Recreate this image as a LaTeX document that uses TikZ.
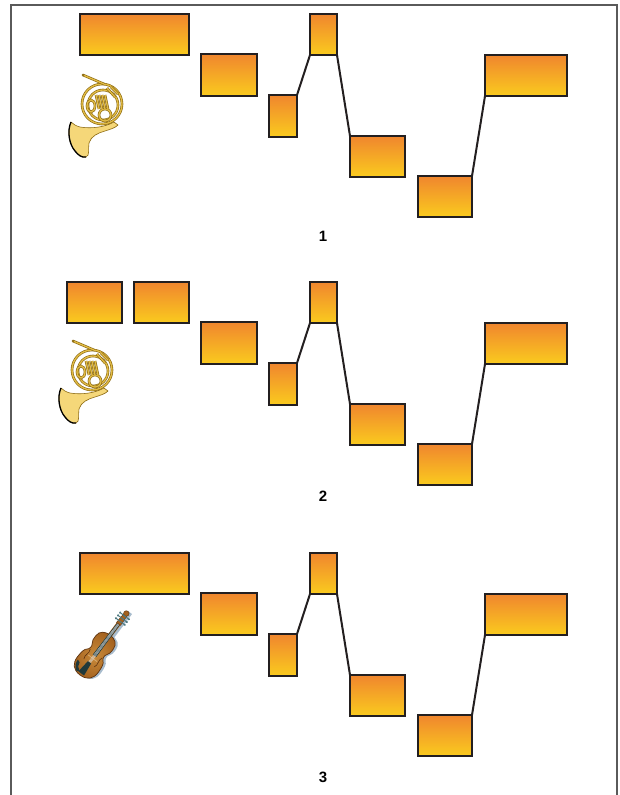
\documentclass[tikz,border=0pt]{standalone}
\usepackage{fontspec}
\setmainfont{Liberation Sans}
\usepackage{xcolor}

\definecolor{barTop}{HTML}{F0862E}
\definecolor{barBot}{HTML}{FACB1E}
\definecolor{barEdge}{HTML}{231F20}
\definecolor{frameGrey}{HTML}{5A5A5A}
\definecolor{brass}{HTML}{E2BC45}
\definecolor{brassDark}{HTML}{8C6A12}
\definecolor{bellFill}{HTML}{F5D779}
\definecolor{woodLight}{HTML}{C98A3A}
\definecolor{woodMid}{HTML}{A4621F}
\definecolor{woodDark}{HTML}{5E3310}
\definecolor{fingerDark}{HTML}{20393B}
\definecolor{pegTeal}{HTML}{4F7A80}
\definecolor{violShade}{HTML}{A8BCCD}

\newcommand\fiddlebody{(0,0) .. controls (0,9) and (5,13) .. (13,13) .. controls (19,13) and (24,12) .. (25,10) .. controls (26,8) and (31,7.5) .. (32,9) .. controls (34,11) and (37,11) .. (41,11) .. controls (47,11) and (50,6) .. (50,0) .. controls (50,-6) and (47,-11) .. (41,-11) .. controls (37,-11) and (34,-11) .. (32,-9) .. controls (31,-7.5) and (26,-8) .. (25,-10) .. controls (24,-12) and (19,-13) .. (13,-13) .. controls (5,-13) and (0,-9) .. (0,0) -- cycle}

\tikzset{
    bar/.style={draw=barEdge,line width=1.7pt,top color=barTop,bottom color=barBot,inner sep=0pt,outer sep=0pt,anchor=north west},
    link/.style={draw=barEdge,line width=2pt},
    frame/.style={draw=frameGrey,line width=1.2pt},
    num/.style={font=\bfseries\fontsize{15}{17}\selectfont,inner sep=0pt},
    tube/.style={draw=brassDark,line width=2.6pt,postaction={draw=brass,line width=1.3pt}},
    horn/.pic={
        \draw[brassDark,line width=0.6pt,fill=bellFill] (-31,18) .. controls (-35,27) and (-33,40) .. (-27,47) .. controls (-24,51) and (-20,54) .. (-16,53) .. controls (-12,52) and (-14,44) .. (-13,39) .. controls (-11,32) and (-4,29) .. (3,27) .. controls (9,25) and (13,24) .. (16,21) -- (12,18) .. controls (3,23) and (-10,25) .. (-22,23) .. controls (-26,22) and (-29,20) .. (-31,18) -- cycle;
        \draw[black,line width=1.3pt] (-31,18) .. controls (-35,27) and (-33,40) .. (-27,47) .. controls (-24,51) and (-20,54) .. (-16,53);
        \draw[tube] (0,0) circle (20);
        \draw[tube] (1,1) circle (15);
        \draw[tube] (3,11) circle (6);
        \draw[tube] (-11,2) ellipse (4 and 6);
        \foreach \k in {0,...,3}
            \draw[tube] ({-6+3*\k},-9) -- ({-3+3*\k},5);
        \draw[tube] (5,-16) -- (13,-7);
        \draw[tube] (9,-17) -- (16,-10);
        \draw[tube] (-19,-29) -- (2,-20);
        \fill[brassDark] (-19,-29) circle (1.4);
    },
    violin/.pic={
        \begin{scope}[x=1pt,y=1pt]
            \begin{scope}[shift={(1,-2.5)}]
                \fill[violShade] \fiddlebody;
                \fill[violShade] (48,-2.4) rectangle (79,2.4);
            \end{scope}
            \fill[woodMid] (48,-2.2) rectangle (66,2.2);
            \shade[inner color=woodLight,outer color=woodMid,draw=woodDark,line width=0.7pt] \fiddlebody;
            \fill[fingerDark] (1,5) .. controls (4,10) and (8,11) .. (11,11) -- (10,8) .. controls (7,8) and (4,6) .. (3,3) -- cycle;
            \fill[fingerDark] (2,-3.5) -- (16,-2) -- (16,2) -- (2,3.5) -- cycle;
            \fill[fingerDark] (24,-2.1) -- (64,-1.6) -- (64,1.6) -- (24,2.1) -- cycle;
            \draw[woodDark,line width=0.6pt] (15,6.5) .. controls (19,9) and (23,5) .. (27,7.5);
            \draw[woodDark,line width=0.6pt] (15,-6.5) .. controls (19,-9) and (23,-5) .. (27,-7.5);
            \draw[woodLight!70!white,line width=0.8pt] (21,-5.5) -- (21,5.5);
            \foreach \s in {-1.2,-0.4,0.4,1.2}
                \draw[white!75!gray,line width=0.25pt] (16,\s) -- (64,0.7*\s);
            \fill[woodMid,draw=woodDark,line width=0.4pt] (64,-2.5) -- (75,-2) -- (75,2) -- (64,2.5) -- cycle;
            \draw[woodDark,fill=woodMid,line width=0.4pt] (77,0) circle (2.8);
            \foreach \u in {67,70.5,74} {
                \draw[pegTeal,line width=1pt] (\u,-5) -- (\u,5);
                \fill[pegTeal] (\u,-5.5) circle (1.2) (\u,5.5) circle (1.2);
            }
        \end{scope}
    }
}

\begin{document}
\begin{tikzpicture}[x=1pt,y=-1pt]
        \useasboundingbox (0,0) rectangle (619,795);
        \draw[frame] (11,795) -- (11,5) -- (617,5) -- (617,795);
        \node[bar,minimum width=109,minimum height=41] (a1) at (80,14) {};
        \node[bar,minimum width=55,minimum height=41] (a2) at (67,282) {};
        \node[bar,minimum width=55,minimum height=41] (a2r) at (134,282) {};
        \node[bar,minimum width=109,minimum height=41] (a3) at (80,553) {};
        \foreach \p/\off in {1/0,2/268,3/539} {
            \node[bar,minimum width=56,minimum height=42] (b\p) at (201,{54+\off}) {};
            \node[bar,minimum width=28,minimum height=42] (c\p) at (269,{95+\off}) {};
            \node[bar,minimum width=27,minimum height=41] (d\p) at (310,{14+\off}) {};
            \node[bar,minimum width=55,minimum height=41] (e\p) at (350,{136+\off}) {};
            \node[bar,minimum width=54,minimum height=41] (f\p) at (418,{176+\off}) {};
            \node[bar,minimum width=82,minimum height=41] (g\p) at (485,{55+\off}) {};
            \draw[link] (c\p.north east) to (d\p.south west);
            \draw[link] (d\p.south east) to (e\p.north west);
            \draw[link] (f\p.north east) to (g\p.south west);
        }
        \pic (hornA) at (102,104) {horn};
        \pic (hornB) at (92,370) {horn};
        \pic[rotate=53] (fiddle) at (80,675) {violin};
        \node[num] (n1) at (323,236) {1};
        \node[num] (n2) at (323,496) {2};
        \node[num] (n3) at (323,777) {3};
\end{tikzpicture}
\end{document}
